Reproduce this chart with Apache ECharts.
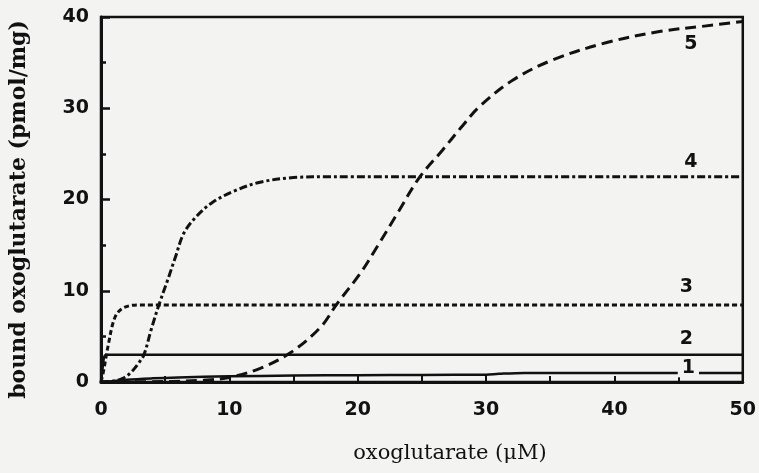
<!DOCTYPE html>
<html>
<head>
<meta charset="utf-8">
<script src="https://cdn.jsdelivr.net/npm/echarts@6/dist/echarts.min.js"></script>
<style>
  html, body { margin: 0; padding: 0; background: #f3f3f1; }
</style>
</head>
<body>
<!-- chart container -->
<div id="chart" style="width: 759px;height:473px;"></div>
<script>
// curve 1 (solid, near baseline)
const x1 = [0, 0.5, 1, 2, 4, 6, 10, 15, 20, 25, 30, 31, 33, 40, 50]
const y1 = [0, 0.05, 0.1, 0.25, 0.4, 0.5, 0.62, 0.7, 0.75, 0.78, 0.8, 0.9, 1.0, 1.0, 1.0]
// curve 2
const x2 = [0, 0.1, 0.2, 0.3, 0.5, 1, 50]
const y2 = [0, 1.2, 2.4, 2.9, 3.0, 3.0, 3.0]
// curve 3
const x3 = [0, 0.2, 0.4, 0.6, 0.9, 1.2, 1.6, 2.2, 3, 4, 50]
const y3 = [0, 1.2, 2.8, 4.3, 6.3, 7.4, 8.0, 8.35, 8.45, 8.45, 8.45]
// curve 4
const x4 = [0, 1, 1.7, 2.3, 2.95, 3.35, 3.9, 4.5, 5.2, 5.8, 6.45, 7.4, 8.7, 10.5, 12.4, 15, 18, 50]
const y4 = [0, 0.1, 0.4, 1.0, 2.1, 3.0, 5.7, 8.4, 11.2, 13.7, 16.3, 18.1, 19.7, 21.0, 21.9, 22.4, 22.5, 22.5]
// curve 5
const x5 = [0, 5, 8, 10, 12.4, 14.75, 17.1, 18.4, 20.2, 21.5, 23.1, 24.8, 26.6, 28, 29.5, 32.1, 35.2, 39.4, 43.5, 47, 50]
const y5 = [0, 0.05, 0.2, 0.5, 1.5, 3.2, 6.0, 8.6, 11.9, 14.8, 18.5, 22.4, 25.4, 27.8, 30.2, 33.1, 35.3, 37.2, 38.4, 39.0, 39.5]

const curveNames = ['1', '2', '3', '4', '5']
const curveX = [x1, x2, x3, x4, x5]
const curveY = [y1, y2, y3, y4, y5]
// where each curve number is written
const labelX = [45.8, 45.65, 45.65, 46.0, 46.0]
const labelY = [1.5, 4.6, 10.4, 24.1, 37.0]

const bg = '#f3f3f1'
const dashes = ['solid', 'solid', [5, 3], [8, 3, 3, 3], [11, 6]]
const widths = [2.5, 2.5, 3, 3, 3]

const myChart = echarts.init(document.getElementById('chart'))
const series = []
for (let i = 0; i < curveNames.length; i++) {
  const pts = curveX[i].map((x, k) => [x, curveY[i][k]])
  series.push({
    name: curveNames[i],
    type: 'line',
    data: pts,
    showSymbol: false,
    smooth: 0.35,
    z: 3,
    lineStyle: { color: '#111', width: widths[i], type: dashes[i] }
  })
}
// curve numbers
series.push({
  type: 'scatter',
  symbolSize: 1,
  z: 5,
  itemStyle: { color: bg, opacity: 0 },
  data: labelX.map((x, i) => ({ value: [x, labelY[i]], name: curveNames[i] })),
  label: {
    show: true,
    position: [0, 0],
    align: 'center',
    verticalAlign: 'middle',
    formatter: p => p.name,
    color: '#111',
    opacity: 1,
    fontFamily: 'DejaVu Sans',
    fontWeight: 'bold',
    fontSize: 19,
    backgroundColor: bg,
    padding: [0, 4]
  }
})

const tickFont = { color: '#111', fontFamily: 'DejaVu Sans', fontWeight: 'bold', fontSize: 19 }

const option = {
  backgroundColor: bg,
  animation: false,
  grid: {
    left: 100, right: 15, top: 17, bottom: 91,
    show: true, borderColor: '#111', borderWidth: 2.5, backgroundColor: 'transparent'
  },
  xAxis: {
    type: 'value',
    min: 0, max: 50, interval: 10,
    name: 'oxoglutarate (\u03bcM)',
    nameLocation: 'middle',
    nameGap: 61,
    nameTextStyle: { color: '#111', fontFamily: 'DejaVu Serif', fontSize: 21, padding: [0, 0, 0, 56] },
    axisLine: { lineStyle: { color: '#111', width: 3 } },
    axisTick: { inside: true, length: 6, lineStyle: { color: '#111', width: 2 } },
    minorTick: { show: true, splitNumber: 2, length: 6, lineStyle: { color: '#111', width: 2 } },
    axisLabel: Object.assign({ margin: 19 }, tickFont),
    splitLine: { show: false }
  },
  yAxis: {
    type: 'value',
    min: 0, max: 40, interval: 10,
    name: 'bound oxoglutarate (pmol/mg)',
    nameLocation: 'middle',
    nameGap: 71,
    nameTextStyle: { color: '#111', fontFamily: 'DejaVu Serif', fontWeight: 'bold', fontSize: 22, padding: [0, 20, 0, 0] },
    axisLine: { lineStyle: { color: '#111', width: 3 } },
    axisTick: { inside: true, length: 9, lineStyle: { color: '#111', width: 2.5 } },
    minorTick: { show: true, splitNumber: 2, length: 5, lineStyle: { color: '#111', width: 2.5 } },
    axisLabel: Object.assign({ margin: 12 }, tickFont),
    splitLine: { show: false }
  },
  series: series
}
myChart.setOption(option)
</script>
</body>
</html>
